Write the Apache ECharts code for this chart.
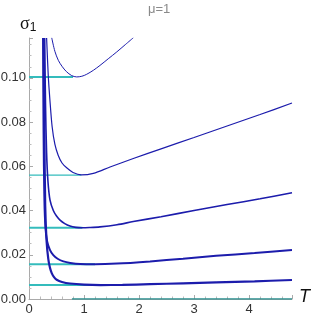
<!DOCTYPE html>
<html><head><meta charset="utf-8">
<script src="https://cdn.jsdelivr.net/npm/echarts@6/dist/echarts.min.js"></script>
<style>html,body{margin:0;padding:0;background:#fff}#c{width:311px;height:318px}</style>
</head><body><div id="c"></div>
<script>
// Curve A (sigma min ~0.1004)
const tA = [0.413,0.47,0.533,0.6,0.68,0.776,0.867,0.96,1.049,1.17,1.29,1.44,1.595,1.75,1.896];
const sA = [0.1181,0.1120,0.1079,0.1052,0.1028,0.1010,0.1004,0.1007,0.1016,0.1034,0.1056,0.1086,0.1117,0.1150,0.1181];
// Curve B (min ~0.056)
const tB = [0.32,0.35,0.38,0.42,0.47,0.53,0.6,0.69,0.8,0.95,1.169,1.473,1.896,2.4,3.0,3.6,4.2,4.78];
const sB = [0.118,0.101,0.090,0.078,0.0700,0.0650,0.0615,0.0592,0.0572,0.0561,0.0568,0.0597,0.0635,0.0679,0.0730,0.0782,0.0834,0.0886];
// Curve C (min ~0.0322)
const tC = [0.285,0.30,0.32,0.345,0.382,0.442,0.5,0.564,0.65,0.745,0.85,0.958,1.1,1.29,1.6,1.896,2.4,3.0,3.6,4.2,4.78];
const sC = [0.118,0.088,0.066,0.053,0.0447,0.0400,0.0375,0.0357,0.0341,0.0330,0.0324,0.0322,0.0323,0.0326,0.0336,0.0350,0.0372,0.0400,0.0427,0.0453,0.0480];
// Curve D (min ~0.0157)
const tD = [0.255,0.265,0.28,0.3,0.33,0.38,0.442,0.52,0.624,0.75,0.93,1.2,1.6,2.2,2.8,3.4,4.1,4.78];
const sD = [0.118,0.075,0.045,0.032,0.0260,0.0222,0.0198,0.0182,0.0170,0.0163,0.0158,0.0157,0.0160,0.0170,0.0182,0.0195,0.0208,0.0221];
// Curve E (min ~0.0063)
const tE = [0.27,0.28,0.295,0.32,0.351,0.38,0.413,0.455,0.503,0.6,0.745,1.0,1.3,1.7,2.2,2.8,3.4,4.1,4.78];
const sE = [0.118,0.075,0.042,0.026,0.0180,0.0142,0.0117,0.0099,0.0087,0.0077,0.0070,0.0065,0.0063,0.0064,0.0067,0.0071,0.0075,0.0080,0.0086];
// Horizontal cyan levels and where each ends (T)
const levels = [0.1004, 0.0560, 0.0322, 0.0157, 0.0063];
const levelEnds = [0.80, 0.95, 0.97, 1.2, 1.3];
const levelWidths = [2, 1.3, 2, 2, 2];
// Teal segment on sigma = 0
const zeroLine = [[0.78, 0], [4.78, 0]];
const xTicks = [0,1,2,3,4];
const yTicks = [0.00,0.02,0.04,0.06,0.08,0.10];

const zip = (t, s) => t.map((v, i) => [v, s[i]]);
const blue = '#1c1cac';
const cyan = '#34bcbc';
const curves = [[tA,sA,1],[tB,sB,1.2],[tC,sC,1.6],[tD,sD,2],[tE,sE,2.2]];

const series = [];
levels.forEach((lv, i) => {
  series.push({type:'line', data:[[0,lv],[levelEnds[i],lv]], symbol:'none',
    lineStyle:{color:cyan, width:levelWidths[i]}, silent:true, z:2});
});
series.push({type:'line', data:zeroLine, symbol:'none', lineStyle:{color:'#2a8f8f', width:1.5}, z:3});
curves.forEach(([t,s,w]) => {
  series.push({type:'line', data:zip(t,s), symbol:'none', smooth:0.3,
    lineStyle:{color:blue, width:w}, z:4});
});

const chart = echarts.init(document.getElementById('c'), null, {renderer:'canvas'});
chart.setOption({
  animation:false,
  grid:{left:29, right:19, top:38, bottom:19, outerBoundsMode:'none'},
  xAxis:{type:'value', min:0, max:4.78, interval:1,
    axisLine:{lineStyle:{color:'#aaa', width:1}},
    axisTick:{inside:true, length:4, lineStyle:{color:'#aaa'}},
    minorTick:{show:true, splitNumber:5, length:2.5, lineStyle:{color:'#bbb'}},
    splitLine:{show:false},
    axisLabel:{fontFamily:'Liberation Sans', fontSize:13, color:'#333', margin:4,
      formatter:v => xTicks.includes(v) ? String(v) : '', showMaxLabel:false}},
  yAxis:{type:'value', min:0, max:0.118, interval:0.02,
    axisLine:{show:true, lineStyle:{color:'#aaa', width:1}},
    axisTick:{show:true, inside:true, length:4, lineStyle:{color:'#aaa'}},
    minorTick:{show:true, splitNumber:4, length:2.5, lineStyle:{color:'#bbb'}},
    splitLine:{show:false},
    axisLabel:{fontFamily:'Liberation Sans', fontSize:13, color:'#333', margin:3,
      formatter:v => yTicks.some(y => Math.abs(y - v) < 1e-9) ? v.toFixed(2) : '', showMaxLabel:false}},
  graphic:[
    {type:'text', left:148, top:3, style:{text:'μ=1', fill:'#8a8a8a', font:'13px "Liberation Sans"'}},
    {type:'text', left:20, top:15, style:{rich:{a:{fontSize:18, fontFamily:'Liberation Serif', fill:'#111'}, b:{fontSize:12, fontFamily:'Liberation Sans', fill:'#111', padding:[8,0,0,0]}}, text:'{a|σ}{b|1}'}},
    {type:'text', left:299, top:288, style:{text:'T', fill:'#111', font:'italic 18px "Liberation Sans"'}}
  ],
  series
});
</script></body></html>
